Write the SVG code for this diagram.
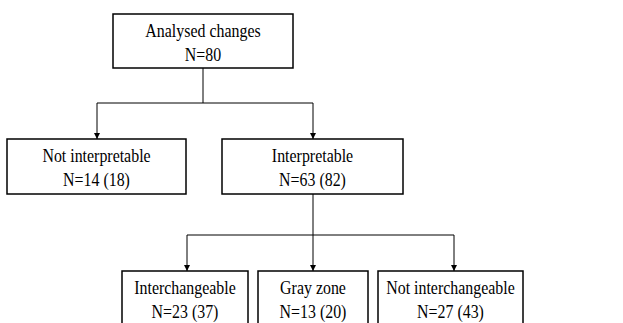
<svg xmlns="http://www.w3.org/2000/svg" width="623" height="323" viewBox="0 0 623 323">
<style>
.box{fill:#fff;stroke:#000;stroke-width:1.5}
.t{font-family:"Liberation Serif","Times New Roman",serif;font-size:18.5px;fill:#000;text-anchor:middle}
.c{fill:none;stroke:#000;stroke-width:1}
</style>
<defs>
<marker id="ah" markerWidth="8" markerHeight="8" refX="6" refY="3" orient="auto" markerUnits="userSpaceOnUse">
<path d="M0,0 L6,3 L0,6 Z" fill="#000"/>
</marker>
</defs>
<rect width="623" height="323" fill="#fff"/>
<g id="connectors">
<path class="c" d="M203,68 V103"/>
<path class="c" d="M97,103 H313"/>
<path class="c" d="M97,103 V139" marker-end="url(#ah)"/>
<path class="c" d="M313,103 V139" marker-end="url(#ah)"/>
<path class="c" d="M313,194 V271" marker-end="url(#ah)"/>
<path class="c" d="M187,235 H454"/>
<path class="c" d="M187,235 V271" marker-end="url(#ah)"/>
<path class="c" d="M454,235 V271" marker-end="url(#ah)"/>
</g>
<g id="n-analysed">
<rect class="box" x="113" y="14" width="180" height="54"/>
<text class="t" transform="matrix(0.86 0 0 1 203 0)" y="37">Analysed changes</text>
<text class="t" transform="matrix(0.86 0 0 1 203 0)" y="61">N=80</text>
</g>
<g id="n-notinterp">
<rect class="box" x="7" y="139" width="179" height="55"/>
<text class="t" transform="matrix(0.86 0 0 1 96.5 0)" y="162">Not interpretable</text>
<text class="t" transform="matrix(0.86 0 0 1 96.5 0)" y="186">N=14 (18)</text>
</g>
<g id="n-interp">
<rect class="box" x="222" y="139" width="181" height="55"/>
<text class="t" transform="matrix(0.86 0 0 1 312.5 0)" y="162">Interpretable</text>
<text class="t" transform="matrix(0.86 0 0 1 312.5 0)" y="186">N=63 (82)</text>
</g>
<g id="n-interch">
<rect class="box" x="122" y="271" width="126" height="60"/>
<text class="t" transform="matrix(0.86 0 0 1 185 0)" y="294">Interchangeable</text>
<text class="t" transform="matrix(0.86 0 0 1 185 0)" y="318">N=23 (37)</text>
</g>
<g id="n-gray">
<rect class="box" x="258" y="271" width="110" height="60"/>
<text class="t" transform="matrix(0.86 0 0 1 313 0)" y="294">Gray zone</text>
<text class="t" transform="matrix(0.86 0 0 1 313 0)" y="318">N=13 (20)</text>
</g>
<g id="n-notinterch">
<rect class="box" x="378" y="271" width="145" height="60"/>
<text class="t" transform="matrix(0.86 0 0 1 450.5 0)" y="294">Not interchangeable</text>
<text class="t" transform="matrix(0.86 0 0 1 450.5 0)" y="318">N=27 (43)</text>
</g>
</svg>
